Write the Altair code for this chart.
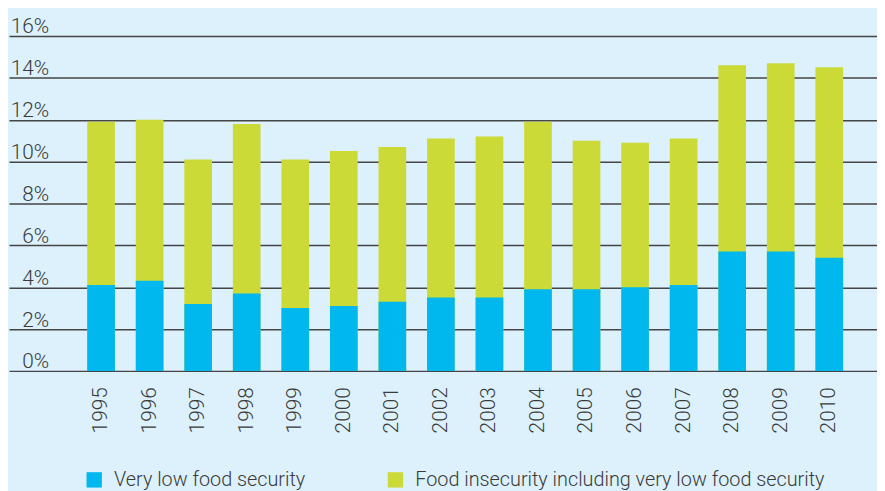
import altair as alt
import pandas as pd

years = [str(y) for y in range(1995, 2011)]
total = [11.9, 12.0, 10.1, 11.8, 10.1, 10.5, 10.7, 11.1, 11.2, 11.9, 11.0, 10.9, 11.1, 14.6, 14.7, 14.5]
very_low = [4.1, 4.3, 3.2, 3.7, 3.0, 3.1, 3.3, 3.5, 3.5, 3.9, 3.9, 4.0, 4.1, 5.7, 5.7, 5.4]
s_low = "Very low food security"
s_total = "Food insecurity including very low food security"

rows = []
for y, v in zip(years, total):
    rows.append({"year": y, "value": v / 100, "series": s_total, "o": 0})
for y, v in zip(years, very_low):
    rows.append({"year": y, "value": v / 100, "series": s_low, "o": 1})
df = pd.DataFrame(rows)

FONT = "Roboto"
TXT = "#3a3a3a"
FS = 21
LFS = 20

chart = alt.Chart(df).mark_bar().encode(
    x=alt.X("year:N", title=None,
            scale=alt.Scale(domain=[" "] + years, paddingInner=0.43, paddingOuter=0.655, align=0.467),
            axis=alt.Axis(labelAngle=-90, labelPadding=16, ticks=False, tickSize=0, domain=False,
                          labelFontSize=FS, labelFont=FONT, labelColor=TXT, labelFontWeight=300)),
    y=alt.Y("value:Q", stack=None, title=None,
            scale=alt.Scale(domain=[0, 0.16], nice=False),
            axis=alt.Axis(format=".0%", values=[0, 0.02, 0.04, 0.06, 0.08, 0.10, 0.12, 0.14, 0.16],
                          ticks=False, tickSize=0, domain=False, labelPadding=-40,
                          labelAlign="right", labelBaseline="alphabetic", labelOffset=-3,
                          labelFontSize=FS, labelFont=FONT, labelColor=TXT, labelFontWeight=300,
                          grid=True, gridColor="#454545", gridWidth=1.5)),
    color=alt.Color("series:N",
                    scale=alt.Scale(domain=[s_low, s_total], range=["#00b7ee", "#cbda37"]),
                    legend=alt.Legend(title=None, orient="none", legendX=76, legendY=438,
                                      direction="horizontal", symbolType="square", symbolSize=240,
                                      symbolStrokeWidth=0, symbolOpacity=1,
                                      labelFontSize=LFS, labelFont=FONT, labelColor=TXT, labelFontWeight=300,
                                      columnPadding=80, labelOffset=10, padding=0, labelLimit=600)),
    order=alt.Order("o:Q"),
).properties(
    width=876, height=338,
    background="#dcf1fb",
    padding={"left": 1, "top": 26, "right": 0, "bottom": 119},
    autosize=alt.AutoSizeParams(type="none"),
).configure_view(stroke=None)

chart.save("out.html", embed_options={"renderer": "svg", "actions": False})
